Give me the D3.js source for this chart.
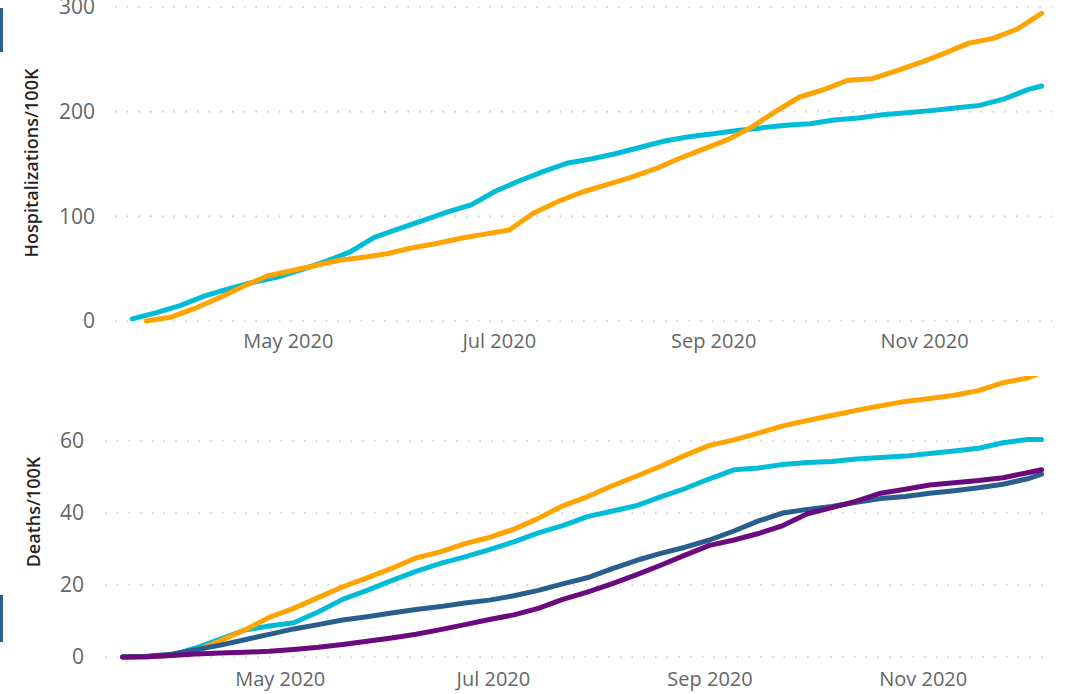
<!DOCTYPE html>
<html>
<head>
<meta charset="utf-8">
<script src="https://cdn.jsdelivr.net/npm/d3@7"></script>
<style>
  body { margin: 0; background: #fff; }
  text { font-family: "Open Sans", sans-serif; }
</style>
</head>
<body>
<div class="canvas"></div>
<script>
// weekly dates shared by most series
const dates = ['2020-03-17','2020-03-24','2020-03-31','2020-04-07','2020-04-14','2020-04-21','2020-04-28',
  '2020-05-05','2020-05-12','2020-05-19','2020-05-26','2020-06-02','2020-06-09','2020-06-16','2020-06-23',
  '2020-06-30','2020-07-07','2020-07-14','2020-07-21','2020-07-28','2020-08-04','2020-08-11','2020-08-18',
  '2020-08-25','2020-09-01','2020-09-08','2020-09-15','2020-09-22','2020-09-29','2020-10-06','2020-10-13',
  '2020-10-20','2020-10-27','2020-11-03','2020-11-10','2020-11-17','2020-11-24','2020-12-01','2020-12-05']

// orange hospitalization series starts a few days later
const hospOrangeDates = ['2020-03-21','2020-03-28','2020-04-04','2020-04-11','2020-04-18','2020-04-25',
  '2020-05-02','2020-05-09','2020-05-16','2020-05-23','2020-05-30','2020-06-06','2020-06-13','2020-06-20',
  '2020-06-27','2020-07-04','2020-07-11','2020-07-18','2020-07-25','2020-08-01','2020-08-08','2020-08-15',
  '2020-08-22','2020-08-29','2020-09-05','2020-09-12','2020-09-19','2020-09-26','2020-10-03','2020-10-10',
  '2020-10-17','2020-10-24','2020-10-31','2020-11-07','2020-11-14','2020-11-21','2020-11-28','2020-12-05']

const hospCyan = [2, 8, 15, 24, 31, 37, 42, 49, 57, 66, 80, 88, 96, 104, 111, 124, 134, 143, 151, 155,
  160, 166, 172, 176, 179, 182, 184.5, 187, 188.5, 192, 194, 197, 199, 201, 203.5, 206, 212, 221, 224.5]

const hospOrange = [0, 3.5, 12, 22, 33, 43, 48, 53, 58, 61, 64.5, 70, 74, 79, 83, 87, 103, 114, 123, 130,
  137, 145, 155, 164, 173, 185, 200, 214, 221, 230, 231.5, 239, 247, 256, 265.5, 270, 279, 294]

const deathOrange = [0, 0.1, 0.4, 1.8, 4.5, 7.5, 11, 13.5, 16.5, 19.5, 22, 24.6, 27.5, 29.2, 31.5, 33.2,
  35.5, 38.5, 42, 44.5, 47.5, 50.2, 53, 56, 58.8, 60.3, 62.2, 64.2, 65.7, 67.1, 68.5, 69.8, 71, 71.8,
  72.7, 74, 76.2, 77.5, 79]

const deathCyan = [0, 0.1, 0.5, 2.5, 5, 7.5, 8.6, 9.5, 12.5, 16, 18.5, 21.2, 23.8, 26, 27.8, 29.8, 32,
  34.5, 36.5, 39, 40.5, 42, 44.5, 46.8, 49.5, 52, 52.5, 53.5, 54, 54.3, 55, 55.4, 55.8, 56.5, 57.2, 58,
  59.5, 60.4, 60.4]

const deathBlue = [0, 0.2, 0.8, 2, 3.3, 4.8, 6.3, 7.8, 9, 10.3, 11.2, 12.2, 13.2, 14, 15, 15.8, 17, 18.5,
  20.3, 22, 24.5, 26.8, 28.8, 30.5, 32.5, 35, 37.8, 40, 41, 41.8, 43, 44, 44.6, 45.5, 46.2, 47, 48, 49.5,
  50.8]

const deathPurple = [0, 0.1, 0.4, 0.8, 1.1, 1.3, 1.6, 2.1, 2.7, 3.5, 4.4, 5.3, 6.3, 7.6, 9, 10.4, 11.7,
  13.5, 16, 18, 20.3, 22.8, 25.5, 28.3, 31, 32.5, 34.3, 36.5, 39.8, 41.5, 43.3, 45.5, 46.6, 47.8, 48.4,
  49, 49.8, 51.2, 52]

const monthTicks = ['2020-05-01', '2020-07-01', '2020-09-01', '2020-11-01']
const hospTicks = [0, 100, 200, 300]
const deathTicks = [0, 20, 40, 60, 80]

const colors = { orange: '#FFA300', cyan: '#01BCD8', blue: '#2A5E8E', purple: '#6A0A7E' }

const parse = d3.timeParse('%Y-%m-%d')
const xDomain = [parse('2020-03-12'), parse('2020-12-08')]

const svg = d3.select('.canvas')
    .append('svg')
    .attr('width', 1089)
    .attr('height', 694)

// small selection markers on the left edge
svg.append('rect').attr('x', 0).attr('y', 8).attr('width', 3).attr('height', 44).attr('fill', '#2A5E8E')
svg.append('rect').attr('x', 0).attr('y', 595).attr('width', 3).attr('height', 47).attr('fill', '#2A5E8E')

svg.append('defs').append('clipPath').attr('id', 'cut')
    .append('rect').attr('x', 0).attr('y', 376).attr('width', 1089).attr('height', 318)

const drawPanel = (opts) => {
    const g = svg.append('g')
    if (opts.clip) g.attr('clip-path', 'url(#cut)')

    const x = d3.scaleTime().domain(xDomain).range(opts.xRange)
    const y = d3.scaleLinear().domain(opts.yDomain).range(opts.yRange)

    // dotted gridlines
    g.selectAll('line.grid')
        .data(opts.yTicks)
        .enter()
        .append('line')
        .attr('x1', opts.xRange[0])
        .attr('x2', opts.xRange[1])
        .attr('y1', d => y(d))
        .attr('y2', d => y(d))
        .attr('stroke', '#C8C8C8')
        .attr('stroke-width', 1.6)
        .attr('stroke-dasharray', '1.6,10.1')

    const yAxis = d3.axisLeft(y).tickValues(opts.yTicks).tickSize(0).tickPadding(0)
    g.append('g')
        .attr('transform', `translate(${opts.labelX}, 0)`)
        .call(yAxis)
        .call(a => a.select('.domain').remove())
        .selectAll('text')
        .attr('font-size', 21)
        .attr('fill', '#666666')

    const xAxis = d3.axisBottom(x).tickValues(monthTicks.map(parse)).tickFormat(d3.timeFormat('%b %Y'))
        .tickSize(0).tickPadding(0)
    g.append('g')
        .attr('transform', `translate(0, ${opts.xLabelY})`)
        .call(xAxis)
        .call(a => a.select('.domain').remove())
        .selectAll('text')
        .attr('font-size', 20)
        .attr('fill', '#666666')

    g.append('text')
        .attr('transform', `translate(${opts.titleX}, ${opts.titleY}) rotate(-90)`)
        .attr('text-anchor', 'middle')
        .attr('font-size', 18)
        .attr('font-weight', 600)
        .attr('fill', '#252423')
        .text(opts.title)

    const line = d3.line()
        .x(d => x(d.date))
        .y(d => y(d.value))

    opts.series.forEach(s => {
        const pts = s.values.map((v, i) => ({ date: parse(s.dates[i]), value: v }))
        g.append('path')
            .attr('d', line(pts))
            .attr('fill', 'none')
            .attr('stroke', s.color)
            .attr('stroke-width', 5)
            .attr('stroke-linejoin', 'round')
            .attr('stroke-linecap', 'round')
    })
}

drawPanel({
    xRange: [115, 1052], yDomain: [0, 300], yRange: [321, 7], yTicks: hospTicks,
    labelX: 95, xLabelY: 334, titleX: 38, titleY: 163, title: 'Hospitalizations/100K',
    series: [
        { dates: dates, values: hospCyan, color: colors.cyan },
        { dates: hospOrangeDates, values: hospOrange, color: colors.orange }
    ]
})

drawPanel({
    xRange: [105, 1052], yDomain: [0, 80], yRange: [657, 369], yTicks: deathTicks,
    labelX: 84, xLabelY: 672, titleX: 40, titleY: 512, title: 'Deaths/100K', clip: true,
    series: [
        { dates: dates, values: deathCyan, color: colors.cyan },
        { dates: dates, values: deathOrange, color: colors.orange },
        { dates: dates, values: deathBlue, color: colors.blue },
        { dates: dates, values: deathPurple, color: colors.purple }
    ]
})
</script>
</body>
</html>
